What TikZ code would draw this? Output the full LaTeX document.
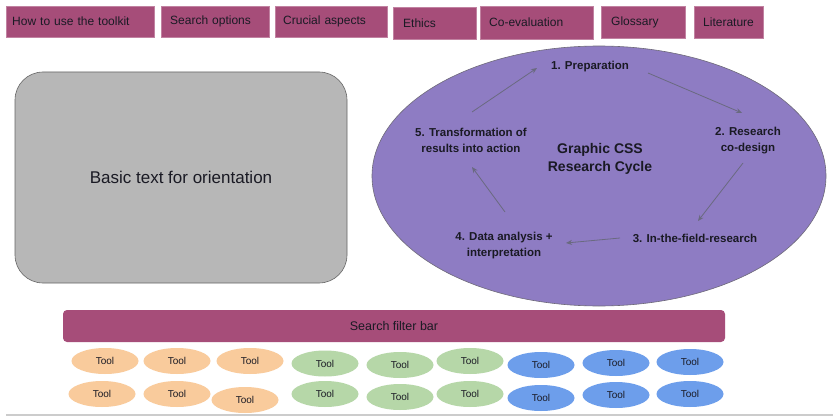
\documentclass[tikz,border=0pt]{standalone}
\usepackage{fontspec}
\setmainfont{Liberation Sans}
\usetikzlibrary{shapes.geometric,arrows.meta}
\definecolor{tabc}{HTML}{A64D79}
\definecolor{purp}{HTML}{8E7CC3}
\definecolor{boxg}{HTML}{B7B7B7}
\definecolor{boxb}{HTML}{666666}
\definecolor{peach}{HTML}{F9CB9C}
\definecolor{greenl}{HTML}{B6D7A8}
\definecolor{bluel}{HTML}{6D9EEB}
\definecolor{txt}{HTML}{1A1A24}
\definecolor{arr}{HTML}{6A6A80}
\tikzset{
  tab/.style={fill=tabc, draw=tabc!70!white, line width=0.4pt, anchor=north west, align=left,
    font=\fontsize{12}{14}\selectfont, text=txt, inner ysep=0pt},
  stage/.style={align=center, font=\bfseries\fontsize{11.5}{16}\selectfont, text=txt, inner sep=1pt},
  cyc/.style={draw=arr, line width=0.8pt, -{Stealth[length=6pt,width=5pt]}},
  tool/.style={ellipse, minimum width=67, minimum height=26, inner sep=0pt,
    font=\fontsize{10}{12}\selectfont, text=txt},
  ptool/.style={tool, fill=peach},
  gtool/.style={tool, fill=greenl},
  btool/.style={tool, fill=bluel}
}
\begin{document}
\begin{tikzpicture}[x=1pt, y=-1pt]
\useasboundingbox[fill=white] (0,0) rectangle (833,420);
% top tabs
\node[tab, minimum width=148, text width=136, inner xsep=6, minimum height=31] (t1) at (6,6) {How to use the toolkit};
\node[tab, minimum width=108, text width=90, inner xsep=9, minimum height=31] (t2) at (161,6) {Search options};
\node[tab, minimum width=112, text width=96, inner xsep=8, minimum height=31] (t3) at (275,6) {Crucial aspects};
\node[tab, minimum width=83, text width=63, inner xsep=10, minimum height=32] (t4) at (393,7) {Ethics};
\node[tab, minimum width=113, text width=95, inner xsep=9, minimum height=33] (t5) at (480,6) {Co-evaluation};
\node[tab, minimum width=84, text width=64, inner xsep=10, minimum height=32] (t6) at (601,6) {Glossary};
\node[tab, minimum width=69, text width=51, inner xsep=9, minimum height=32] (t7) at (694,6) {Literature};
% basic text box
\node[fill=boxg, draw=boxb, line width=0.6pt, rounded corners=28pt, minimum width=332, minimum height=211,
  font=\fontsize{17}{20}\selectfont, text=txt] (basic) at (181,177.5) {Basic text for orientation};
% cycle ellipse
\node[ellipse, fill=purp, draw=boxb!80!purp, line width=0.6pt, minimum width=454, minimum height=260, inner sep=0pt] (cycle) at (599,176) {};
\node[align=center, font=\bfseries\fontsize{14}{18}\selectfont, text=txt] (title) at (600,159) {Graphic CSS\\Research Cycle};
\node[stage] (p1) at (590,67) {1. Preparation};
\node[stage] (p2) at (748,141) {2. Research\\co-design};
\node[stage] (p3) at (695,238) {3. In-the-field-research};
\node[stage] (p4) at (504,245.5) {4. Data analysis +\\interpretation};
\node[stage] (p5) at (471,140) {5. Transformation of\\results into action};
\draw[cyc] ([shift={(58,6)}]p1.center) -- ([shift={(-6,-28)}]p2.center);
\draw[cyc] ([shift={(-5,22)}]p2.center) -- ([shift={(3,-17)}]p3.center);
\draw[cyc] ([shift={(-75,0)}]p3.center) -- ([shift={(62,-2.5)}]p4.center);
\draw[cyc] ([shift={(1,-33.5)}]p4.center) -- ([shift={(1,27)}]p5.center);
\draw[cyc] ([shift={(1,-28)}]p5.center) -- ([shift={(-53,1)}]p1.center);
% search filter bar
\node[fill=tabc, rounded corners=4pt, minimum width=662, minimum height=32,
  font=\fontsize{12.5}{15}\selectfont, text=txt] (bar) at (394,326) {Search filter bar};
% tools
\node[ptool] (a1) at (105,361) {Tool};
\node[ptool] (a2) at (177,361) {Tool};
\node[ptool] (a3) at (250,361) {Tool};
\node[gtool] (a4) at (325,363.5) {Tool};
\node[gtool] (a5) at (400,365) {Tool};
\node[gtool] (a6) at (470,361) {Tool};
\node[btool] (a7) at (541,365) {Tool};
\node[btool] (a8) at (616,363) {Tool};
\node[btool] (a9) at (690,362) {Tool};
\node[ptool] (b1) at (102,394) {Tool};
\node[ptool] (b2) at (177,394) {Tool};
\node[ptool] (b3) at (245,400) {Tool};
\node[gtool] (b4) at (325,394) {Tool};
\node[gtool] (b5) at (400,397) {Tool};
\node[gtool] (b6) at (470,394) {Tool};
\node[btool] (b7) at (541,398) {Tool};
\node[btool] (b8) at (616,395) {Tool};
\node[btool] (b9) at (690,394) {Tool};
% bottom separator
\coordinate (sepL) at (6,415);
\coordinate (sepR) at (833,415);
\draw[black!20, line width=1.5pt] (sepL) -- (sepR);
\end{tikzpicture}
\end{document}
